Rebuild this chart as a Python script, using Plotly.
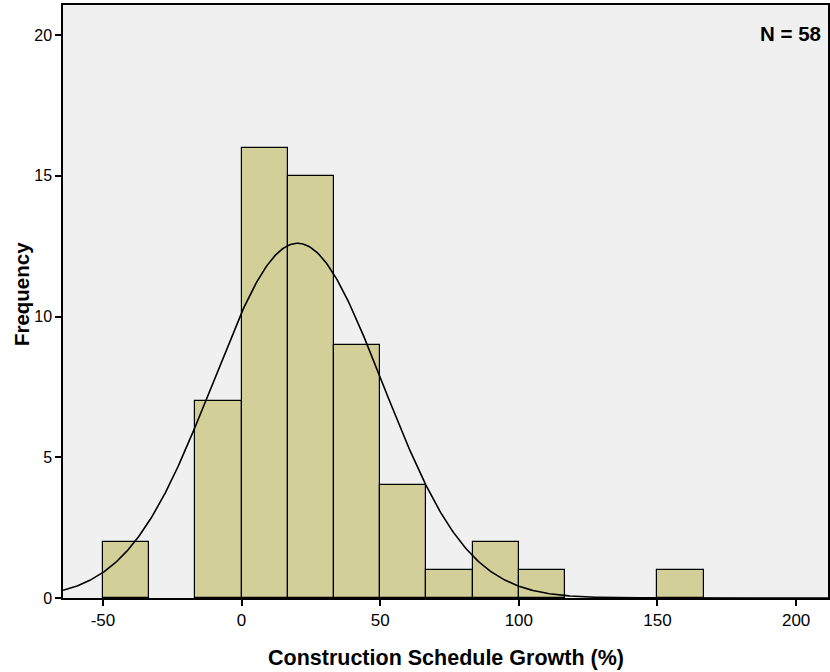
import numpy as np
import plotly.graph_objects as go

# Histogram data
bin_starts = [-50.0, -16.667, 0.0, 16.667, 33.333, 50.0, 66.667, 83.333, 100.0, 150.0]
counts = [2, 7, 16, 15, 9, 4, 1, 2, 1, 1]
bin_width = 16.667

# Normal-curve fit parameters
n_total = 58
fit_mean = 20.2
fit_sd = 30.6

x_ticks = [-50, 0, 50, 100, 150, 200]
y_ticks = [0, 5, 10, 15, 20]

centers = [s + bin_width / 2 for s in bin_starts]

xs = np.linspace(-64.4, 211.5, 600)
ys = n_total * bin_width / (fit_sd * np.sqrt(2 * np.pi)) * np.exp(-0.5 * ((xs - fit_mean) / fit_sd) ** 2)

fig = go.Figure()
fig.add_trace(go.Bar(
    x=centers, y=counts, width=[bin_width] * len(counts),
    marker=dict(color="#D3CF99", line=dict(color="#000000", width=1.2)),
    showlegend=False, hoverinfo="x+y",
))
fig.add_trace(go.Scatter(
    x=xs, y=ys, mode="lines", line=dict(color="#000000", width=1.6),
    showlegend=False, hoverinfo="skip",
))

fig.add_annotation(
    text="<b>N = 58</b>", xref="paper", yref="paper", x=0.993, y=0.975,
    xanchor="right", yanchor="top", showarrow=False,
    font=dict(family="Liberation Sans, Arial", size=20.5, color="#000000"),
)
# Axis titles placed as paper-positioned annotations
fig.add_annotation(
    text="<b>Construction Schedule Growth (%)</b>", xref="paper", yref="paper",
    x=0.5, y=-0.101, xanchor="center", yanchor="middle", showarrow=False,
    font=dict(family="Liberation Sans, Arial", size=21.5, color="#000000"),
)
fig.add_annotation(
    text="<b>Frequency</b>", xref="paper", yref="paper",
    x=-0.054, y=0.512, xanchor="center", yanchor="middle", showarrow=False, textangle=-90,
    font=dict(family="Liberation Sans, Arial", size=20.5, color="#000000"),
)

fig.update_layout(
    width=830, height=672,
    margin=dict(l=63, r=0, t=5, b=74),
    paper_bgcolor="#FFFFFF", plot_bgcolor="#F0F0F0",
    font=dict(family="Liberation Sans, Arial", color="#000000"),
    bargap=0,
)
fig.update_xaxes(
    range=[-64.4, 211.5], tickvals=x_ticks, ticktext=[str(v) for v in x_ticks],
    showgrid=False, zeroline=False, showline=True, linecolor="#000000", linewidth=1.5,
    mirror=True, ticks="outside", ticklen=6, tickwidth=1.5, tickcolor="#000000",
    tickfont=dict(size=17),
)
fig.update_yaxes(
    range=[0, 21.07], tickvals=y_ticks, ticktext=[str(v) for v in y_ticks],
    showgrid=False, zeroline=False, showline=True, linecolor="#000000", linewidth=1.5,
    mirror=True, ticks="outside", ticklen=6, tickwidth=1.5, tickcolor="#000000",
    tickfont=dict(size=16),
)

fig.write_html(
    "out.html",
    config={"displayModeBar": False},
    post_script="document.body.style.margin='0';document.body.style.padding='0';",
)
